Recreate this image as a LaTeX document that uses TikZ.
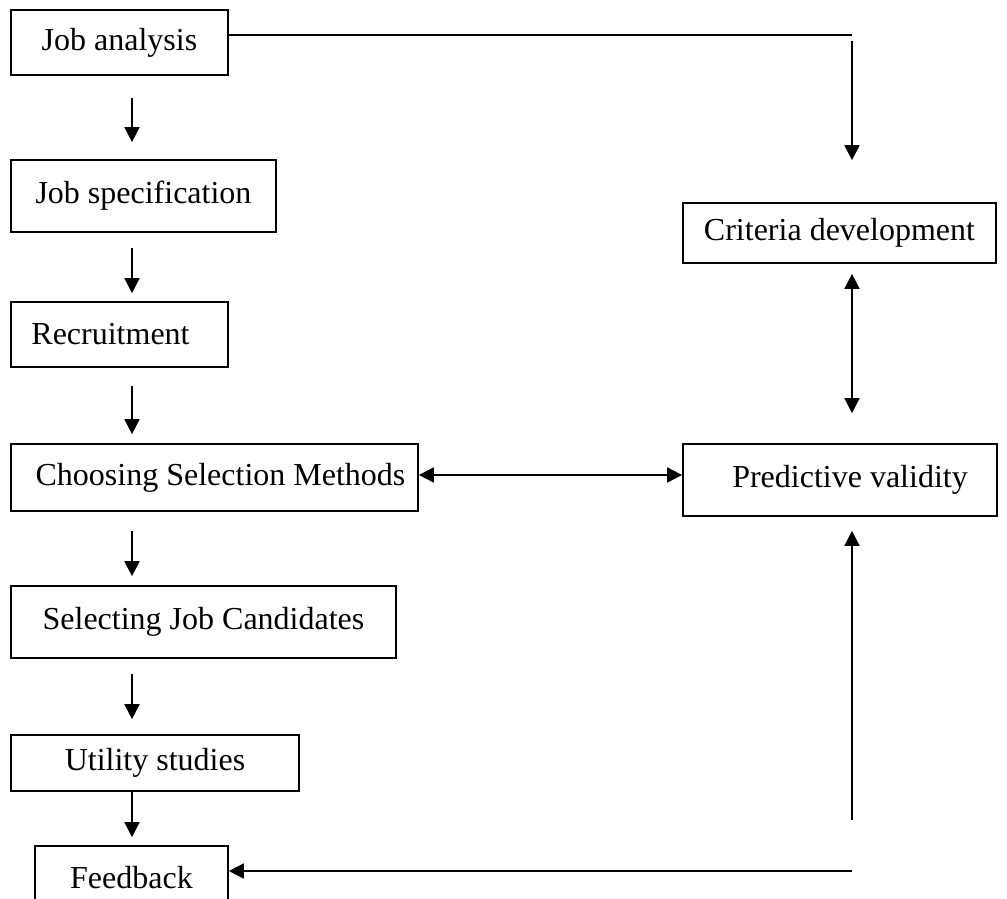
\documentclass[tikz,border=0pt]{standalone}
\usepackage{fontspec}
\setmainfont{Liberation Serif}
\usetikzlibrary{arrows.meta}
\begin{document}
\begin{tikzpicture}[x=1pt,y=-1pt,
  box/.style={draw,line width=1.7pt,inner sep=0pt,
    font=\fontsize{32}{38}\selectfont},
  link/.style={line width=1.7pt},
  arr/.style={link,-{Triangle[length=15pt,width=15pt]}},
  darr/.style={link,{Triangle[length=15pt,width=15pt]}-{Triangle[length=15pt,width=15pt]}}]
\useasboundingbox (0,0) rectangle (1007,899);

% left column of process steps
\node[box,minimum width=217pt,minimum height=65pt] (ja)   at (119.5,42.5) {Job analysis};
\node[box,minimum width=265pt,minimum height=72pt] (js)   at (143.5,196)  {Job specification};
\node[box,minimum width=217pt,minimum height=65pt] (rec)  at (119.5,334.5) {Recruitment\hspace*{18pt}};
\node[box,minimum width=407pt,minimum height=67pt] (cho)  at (214.5,477.5) {\hspace*{12pt}Choosing Selection Methods};
\node[box,minimum width=385pt,minimum height=72pt] (sel)  at (203.5,622)  {Selecting Job Candidates};
\node[box,minimum width=288pt,minimum height=56pt] (util) at (155,763)    {Utility studies};
\node[box,minimum width=193pt,minimum height=64pt] (fb)   at (131.5,878)  {Feedback};

% right column
\node[box,minimum width=313pt,minimum height=60pt] (crit) at (839.5,233)  {Criteria development};
\node[box,minimum width=314pt,minimum height=72pt] (pv)   at (840,480)    {\hspace*{20pt}Predictive validity};

% guide coordinates for the two arrow columns and bends
\coordinate (colL) at (132,0);
\coordinate (colR) at (852,0);
\coordinate (top1) at (852,35);
\coordinate (top2) at (852,41);
\coordinate (low1) at (852,820);
\coordinate (low2) at (852,871);

% downward arrows of the left column
\draw[arr,shorten <=22pt,shorten >=17pt] (ja.south -| colL) -- (js.north -| colL);
\draw[arr,shorten <=15pt,shorten >=8pt]  (js.south -| colL) -- (rec.north -| colL);
\draw[arr,shorten <=18pt,shorten >=9pt]  (rec.south -| colL) -- (cho.north -| colL);
\draw[arr,shorten <=19pt,shorten >=9pt]  (cho.south -| colL) -- (sel.north -| colL);
\draw[arr,shorten <=15pt,shorten >=15pt] (sel.south -| colL) -- (util.north -| colL);
\draw[arr,shorten >=8pt]                 (util.south -| colL) -- (fb.north -| colL);

% job analysis to criteria development
\draw[link] (ja.east |- top1) -- (top1);
\draw[arr,shorten >=42pt] (top2) -- (crit.north -| colR);

% two-way links
\draw[darr,shorten <=10pt,shorten >=30pt] (crit.south -| colR) -- (pv.north -| colR);
\draw[darr] (cho.east |- 0,475) -- (pv.west |- 0,475);

% feedback loop
\draw[arr,shorten >=14pt] (low1) -- (pv.south -| colR);
\draw[arr] (low2) -- (fb.east |- low2);
\end{tikzpicture}
\end{document}
